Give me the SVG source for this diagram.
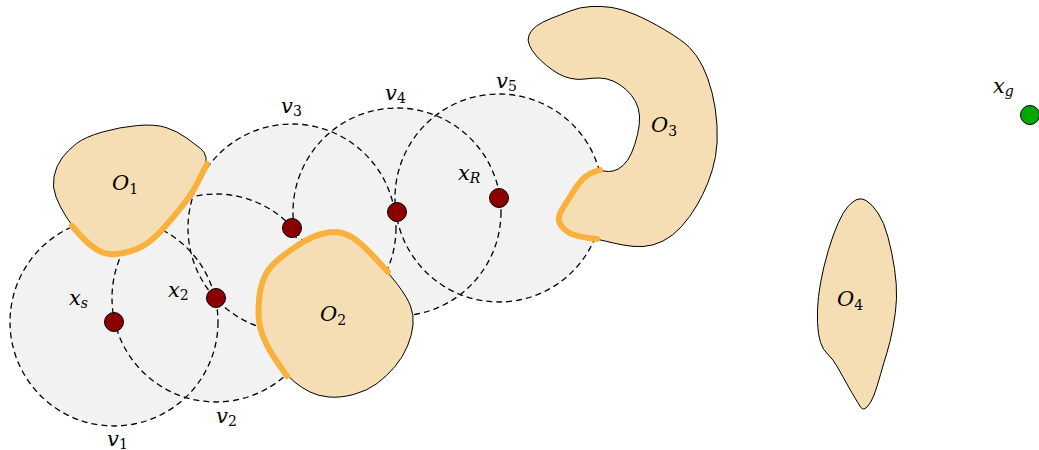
<svg xmlns="http://www.w3.org/2000/svg" width="1039" height="450" viewBox="0 0 1039 450">
<style>
.reg{fill:#f2f2f2;stroke:none}
.rb{fill:none;stroke:#000;stroke-width:1.3;stroke-dasharray:6 4}
.obs{fill:#f5deb3;stroke:#000;stroke-width:1}
.edge{fill:none;stroke:#f7b13c;stroke-width:6;stroke-linecap:round;stroke-linejoin:round}
.pt{fill:#8b0000;stroke:#000;stroke-width:1}
.goal{fill:#00a800;stroke:#000;stroke-width:1}
.lbl{font-family:'DejaVu Serif',serif;font-style:italic;font-size:21px;fill:#000}
.sub{font-size:14px;font-style:normal}
.subi{font-size:14px;font-style:italic}
</style>
<rect width="1039" height="450" fill="#fff"/>
<g id="region-fills">
<circle class="reg" cx="114" cy="322" r="104"/>
<circle class="reg" cx="216" cy="298" r="104"/>
<circle class="reg" cx="292" cy="228" r="104"/>
<circle class="reg" cx="397" cy="212" r="104"/>
<circle class="reg" cx="499" cy="198" r="104"/>
</g>
<g id="region-borders">
<circle class="rb" cx="114" cy="322" r="104"/>
<circle class="rb" cx="216" cy="298" r="104"/>
<circle class="rb" cx="292" cy="228" r="104"/>
<circle class="rb" cx="397" cy="212" r="104"/>
<circle class="rb" cx="499" cy="198" r="104"/>
</g>
<g id="O1">
<path class="obs" d="M56,197 Q52,187 54,176.5 Q56,166 62,158 Q68,150 76.5,143.5 Q85,137 102.5,132 Q120,127 137.5,125.5 Q155,124 166,127.5 Q177,131 186.5,138 Q196,145 200.5,148.5 Q205,152 206,157.5 Q207,163 200.5,177 Q194,191 183.5,204.5 Q173,218 161.5,230.5 Q150,243 139,248 Q128,253 116.5,254 Q105,255 96.5,249.5 Q88,244 80,235 Q72,226 66,216.5 Q60,207 56,197 Z"/>
<path class="edge" d="M207,164 L200.5,177 Q194,191 183.5,204.5 Q173,218 161.5,230.5 Q150,243 139,248 Q128,253 116.5,254 Q105,255 96.5,249.5 Q88,244 80,235 L72,226"/>
<text class="lbl" x="112" y="190">O<tspan class="sub" dy="4">1</tspan></text>
</g>
<g id="O2">
<path class="obs" d="M264,278 Q268,268 279,259 Q290,250 301.5,243 Q313,236 323.5,233.5 Q334,231 342,233 Q350,235 358,241.5 Q366,248 377,260 Q388,272 397.5,284.5 Q407,297 410.5,306 Q414,315 413,325 Q412,335 407.5,346 Q403,357 395,366.5 Q387,376 377,383.5 Q367,391 353.5,394.5 Q340,398 329,397 Q318,396 310,392 Q302,388 294.5,382 Q287,376 278.5,364 Q270,352 265,341 Q260,330 259,321 Q258,312 259,300 Q260,288 264,278 Z"/>
<path class="edge" d="M287,376 L278.5,364 Q270,352 265,341 Q260,330 259,321 Q258,312 259,300 Q260,288 264,278 Q268,268 279,259 Q290,250 301.5,243 Q313,236 323.5,233.5 Q334,231 342,233 Q350,235 358,241.5 Q366,248 377,260 L388,272"/>
<text class="lbl" x="320" y="321">O<tspan class="sub" dy="4">2</tspan></text>
</g>
<g id="O3">
<path class="obs" d="M529.5,45.5 Q527,40 529,35 Q531,30 536.5,26 Q542,22 551,18.5 Q560,15 570,11 Q580,7 591,6.5 Q602,6 612,7.5 Q622,9 635,14.5 Q648,20 665,30 Q682,40 689.5,47.5 Q697,55 702.5,66 Q708,77 712,92.5 Q716,108 717,125.5 Q718,143 715.5,156.5 Q713,170 708,182.5 Q703,195 696.5,206 Q690,217 681.5,226.5 Q673,236 663,241 Q653,246 643,246.5 Q633,247 623,245 Q613,243 605,241 Q597,239 588.5,238 Q580,237 573,234.5 Q566,232 561,225.5 Q556,219 562,209.5 Q568,200 574,190.5 Q580,181 585,177 Q590,173 595,171.5 Q600,170 604,171 Q608,172 613,171 Q618,170 623,165.5 Q628,161 631.5,153 Q635,145 637.5,134.5 Q640,124 639.5,116 Q639,108 635.5,101.5 Q632,95 626,89.5 Q620,84 613,81 Q606,78 599,78 Q592,78 585,79 Q578,80 571,78.5 Q564,77 558,73.5 Q552,70 546.5,65.5 Q541,61 536.5,56 Q532,51 529.5,45.5 Z"/>
<path class="edge" d="M597,239 L588.5,238 Q580,237 573,234.5 Q566,232 561,225.5 Q556,219 562,209.5 Q568,200 574,190.5 Q580,181 585,177 Q590,173 595,171.5 L600,170"/>
<text class="lbl" x="651" y="132">O<tspan class="sub" dy="4">3</tspan></text>
</g>
<g id="O4">
<path class="obs" d="M854,201 Q860,197 866,200.5 Q872,204 878,213 Q884,222 888,237 Q892,252 894.5,268.5 Q897,285 896.5,298.5 Q896,312 893,327.5 Q890,343 887,352.5 Q884,362 880.5,374.5 Q877,387 874,395 Q871,403 867,407 Q863,411 860.5,407 Q858,403 855,398 Q852,393 847.5,385 Q843,377 838,368 Q833,359 828,354.5 Q823,350 820.5,342.5 Q818,335 817.5,322.5 Q817,310 818.5,296.5 Q820,283 824,266.5 Q828,250 833,236 Q838,222 843,213.5 Q848,205 854,201 Z"/>
<text class="lbl" x="837" y="306">O<tspan class="sub" dy="4">4</tspan></text>
</g>
<g id="xs">
<circle class="pt" cx="114" cy="322" r="9.5"/>
<text class="lbl" x="69" y="305">x<tspan class="subi" dy="3">s</tspan></text>
</g>
<g id="x2">
<circle class="pt" cx="216" cy="298" r="9.5"/>
<text class="lbl" x="168" y="297">x<tspan class="sub" dy="3">2</tspan></text>
</g>
<g id="x3">
<circle class="pt" cx="292" cy="228" r="9.5"/>
</g>
<g id="x4">
<circle class="pt" cx="397" cy="212" r="9.5"/>
</g>
<g id="xR">
<circle class="pt" cx="499" cy="198" r="9.5"/>
<text class="lbl" x="458" y="180">x<tspan class="subi" dy="3">R</tspan></text>
</g>
<g id="xg">
<circle class="goal" cx="1030" cy="115" r="9.5"/>
<text class="lbl" x="993" y="93">x<tspan class="subi" dy="3">g</tspan></text>
</g>
<g id="region-labels">
<text class="lbl" x="107" y="446">v<tspan class="sub" dy="3">1</tspan></text>
<text class="lbl" x="216" y="423">v<tspan class="sub" dy="3">2</tspan></text>
<text class="lbl" x="281" y="113">v<tspan class="sub" dy="3">3</tspan></text>
<text class="lbl" x="385" y="100">v<tspan class="sub" dy="3">4</tspan></text>
<text class="lbl" x="496" y="88">v<tspan class="sub" dy="3">5</tspan></text>
</g>
</svg>
